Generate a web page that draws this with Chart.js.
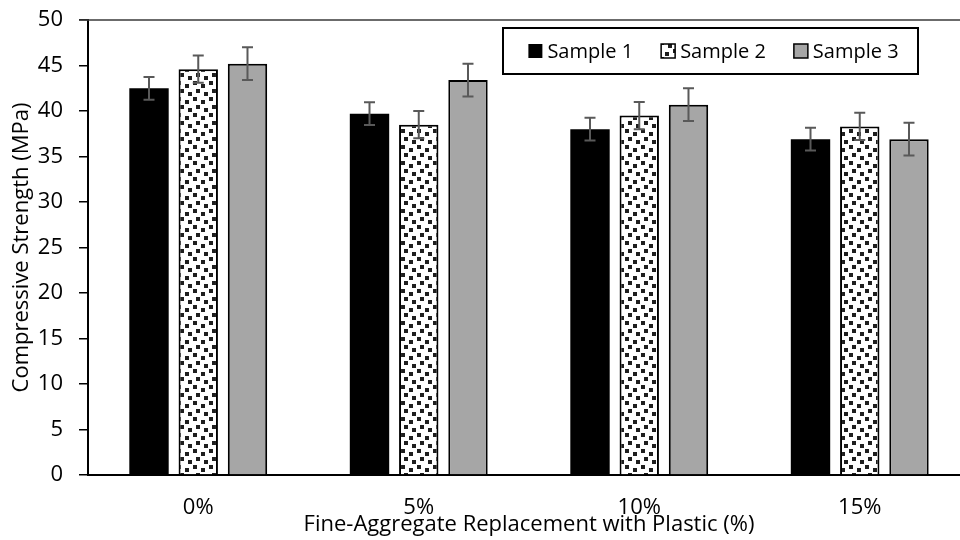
<!DOCTYPE html>
<html>
<head>
<meta charset="utf-8">
<script src="https://cdn.jsdelivr.net/npm/chart.js@4"></script>
<style>
  html, body { margin: 0; padding: 0; background: #fff; overflow: hidden; }
  #wrap { width: 970px; height: 540px; }
</style>
</head>
<body>
<div id="wrap"><canvas id="chart"></canvas></div>
<script>
const categories = ['0%', '5%', '10%', '15%'];
const seriesNames = ['Sample 1', 'Sample 2', 'Sample 3'];
const sample1 = [42.5, 39.7, 38.0, 36.9];
const sample2 = [44.6, 38.5, 39.5, 38.3];
const sample3 = [45.2, 43.4, 40.7, 36.9];
const err1 = [1.25, 1.25, 1.25, 1.25];
const err2 = [1.5, 1.5, 1.5, 1.5];
const err3 = [1.8, 1.8, 1.8, 1.8];
const yMin = 0, yMax = 50, yStep = 5;

const FONT = '"Open Sans", "Noto Sans", sans-serif';

// white fill with little dark squares, like the Excel pattern
function dotPattern() {
  const c = document.createElement('canvas');
  c.width = 16; c.height = 16;
  const g = c.getContext('2d');
  g.fillStyle = '#fff';
  g.fillRect(0, 0, 16, 16);
  g.fillStyle = '#1e1e1e';
  [[1, 1], [9, 4], [4, 9], [12, 12]].forEach(p => g.fillRect(p[0], p[1], 4, 4));
  return g.createPattern(c, 'repeat');
}
const dots = dotPattern();

const errorBars = {
  id: 'errorBars',
  afterDatasetsDraw(chart) {
    const ctx = chart.ctx, y = chart.scales.y;
    ctx.save();
    ctx.strokeStyle = '#595959';
    ctx.lineWidth = 2;
    chart.data.datasets.forEach((ds, i) => {
      chart.getDatasetMeta(i).data.forEach((bar, j) => {
        const v = ds.data[j], e = ds.errors[j];
        const top = y.getPixelForValue(v + e), bot = y.getPixelForValue(v - e);
        ctx.beginPath();
        ctx.moveTo(bar.x, top); ctx.lineTo(bar.x, bot);
        ctx.moveTo(bar.x - 5.5, top); ctx.lineTo(bar.x + 5.5, top);
        ctx.moveTo(bar.x - 5.5, bot); ctx.lineTo(bar.x + 5.5, bot);
        ctx.stroke();
      });
    });
    ctx.restore();
  }
};

const frameAndLegend = {
  id: 'frameAndLegend',
  afterDraw(chart) {
    const ctx = chart.ctx, a = chart.chartArea;
    ctx.save();
    // top edge of plot area
    ctx.strokeStyle = '#3a3a3a';
    ctx.lineWidth = 1.5;
    ctx.beginPath();
    ctx.moveTo(a.left - 9, a.top); ctx.lineTo(a.right, a.top);
    ctx.stroke();

    // legend box
    const bx = a.left + 415, by = a.top + 8, bw = 415, bh = 46;
    ctx.fillStyle = '#fff';
    ctx.fillRect(bx, by, bw, bh);
    ctx.strokeStyle = '#000';
    ctx.lineWidth = 2;
    ctx.strokeRect(bx, by, bw, bh);

    ctx.font = '20px ' + FONT;
    ctx.textBaseline = 'middle';
    const sw = 14, gap = 5, itemGap = 28;
    const items = chart.data.datasets.map(ds => ({ ds, w: sw + gap + ctx.measureText(ds.label).width }));
    const total = items.reduce((s, it) => s + it.w, 0) + itemGap * (items.length - 1);
    let x = bx + (bw - total) / 2 + 3;
    const cy = by + bh / 2;
    items.forEach(it => {
      ctx.fillStyle = it.ds.backgroundColor;
      ctx.fillRect(x, cy - sw / 2, sw, sw);
      if (it.ds.borderWidth) {
        ctx.strokeStyle = '#000';
        ctx.lineWidth = 1.5;
        ctx.strokeRect(x, cy - sw / 2, sw, sw);
      }
      ctx.fillStyle = '#000';
      ctx.fillText(it.ds.label, x + sw + gap, cy + 1);
      x += it.w + itemGap;
    });
    ctx.restore();
  }
};

new Chart(document.getElementById('chart'), {
  type: 'bar',
  data: {
    labels: categories,
    datasets: [
      { label: seriesNames[0], data: sample1, errors: err1, backgroundColor: '#000000', borderWidth: 0 },
      { label: seriesNames[1], data: sample2, errors: err2, backgroundColor: dots, borderColor: '#000', borderWidth: 2 },
      { label: seriesNames[2], data: sample3, errors: err3, backgroundColor: '#a6a6a6', borderColor: '#000', borderWidth: 2 }
    ]
  },
  options: {
    responsive: true,
    maintainAspectRatio: false,
    animation: false,
    categoryPercentage: 0.67,
    barPercentage: 0.8,
    layout: { padding: { top: 20, right: 0, left: 0, bottom: 0 } },
    plugins: { legend: { display: false }, tooltip: { enabled: false } },
    scales: {
      x: {
        grid: { display: false },
        border: { display: true, color: '#000', width: 2 },
        ticks: { color: '#000', font: { family: FONT, size: 22 }, padding: 12 },
        title: { display: true, text: 'Fine-Aggregate Replacement with Plastic (%)', color: '#000',
                 font: { family: FONT, size: 22 }, padding: { top: 0, bottom: 2 } },
        afterFit(s) { s.height = 65; }
      },
      y: {
        min: yMin, max: yMax,
        ticks: { stepSize: yStep, color: '#000', font: { family: FONT, size: 22 }, padding: 16 },
        grid: { drawOnChartArea: false, drawTicks: true, tickLength: 9, color: '#000', lineWidth: 1.5 },
        border: { display: true, color: '#000', width: 2 },
        title: { display: true, text: 'Compressive Strength (MPa)', color: '#000',
                 font: { family: FONT, size: 22 }, padding: { top: 9, bottom: 0 } },
        afterFit(s) { s.width = 88; s.paddingTop = 0; s.paddingBottom = 0; }
      }
    }
  },
  plugins: [errorBars, frameAndLegend]
});
</script>
</body>
</html>
